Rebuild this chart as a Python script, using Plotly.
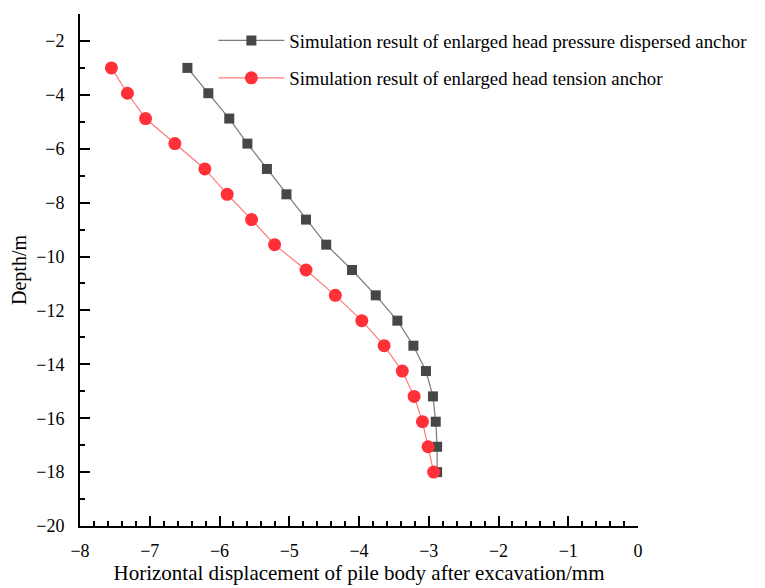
import plotly.graph_objects as go

# Depth below ground (m) at each monitoring point along the pile
depth = [-3.0, -3.94, -4.88, -5.81, -6.75, -7.69, -8.63, -9.56, -10.5,
         -11.44, -12.38, -13.31, -14.25, -15.19, -16.13, -17.06, -18.0]

# Horizontal displacement (mm) after excavation
pressure_dispersed = [-6.46, -6.16, -5.86, -5.60, -5.32, -5.04, -4.76, -4.47, -4.10,
                      -3.76, -3.45, -3.22, -3.04, -2.94, -2.90, -2.88, -2.88]
tension_anchor = [-7.55, -7.32, -7.06, -6.64, -6.21, -5.89, -5.54, -5.21, -4.76,
                  -4.34, -3.96, -3.64, -3.38, -3.21, -3.09, -3.01, -2.93]

series_names = ["Simulation result of enlarged head pressure dispersed anchor",
                "Simulation result of enlarged head tension anchor"]

FONT = "Liberation Serif, Times New Roman, serif"

fig = go.Figure()
fig.add_trace(go.Scatter(
    x=pressure_dispersed, y=depth, mode="lines+markers", name=series_names[0],
    legendgroup="a",
    line=dict(color="#7a7a7a", width=1.2),
    marker=dict(symbol="square", size=10, color="#474747"),
))
fig.add_trace(go.Scatter(
    x=tension_anchor, y=depth, mode="lines+markers", name=series_names[1],
    legendgroup="b",
    line=dict(color="#ff7a7a", width=1.2),
    marker=dict(symbol="circle", size=13, color="#ff3038"),
))

axis_common = dict(
    showline=True, linecolor="black", linewidth=2,
    ticks="inside", ticklen=10, tickwidth=2, tickcolor="black",
    showgrid=False, zeroline=False, mirror=False, automargin=False,
    tickfont=dict(family=FONT, size=18, color="black"),
)

fig.update_xaxes(
    range=[-8, 0], dtick=1, tick0=-8,
    minor=dict(ticks="inside", ticklen=5, tickwidth=1.5, dtick=0.2, tickcolor="black"),
    ticklabelstandoff=7,
    title=dict(text="Horizontal displacement of pile body after excavation/mm",
               font=dict(family=FONT, size=21, color="black"), standoff=6),
    **axis_common,
)
fig.update_yaxes(
    range=[-20, -1], dtick=2, tick0=-20,
    minor=dict(ticks="inside", ticklen=5, tickwidth=1.5, dtick=1, tickcolor="black"),
    ticklabelstandoff=10,
    title=dict(text="Depth/m", font=dict(family=FONT, size=20, color="black"), standoff=4),
    **axis_common,
)

fig.update_layout(
    width=765, height=588,
    margin=dict(l=80, r=127, t=14, b=62, autoexpand=False),
    plot_bgcolor="white", paper_bgcolor="white",
    font=dict(family=FONT, color="black"),
    legend=dict(
        x=0.239, y=0.985, xanchor="left", yanchor="top",
        bgcolor="rgba(0,0,0,0)", borderwidth=0,
        font=dict(family=FONT, size=18.8, color="black"),
        itemwidth=66, tracegroupgap=10,
    ),
)

fig.write_html("out.html")
